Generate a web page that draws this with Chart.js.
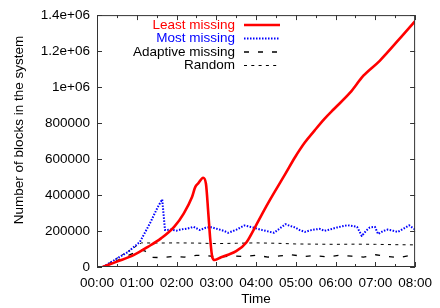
<!DOCTYPE html>
<html>
<head>
<meta charset="utf-8">
<script src="https://cdn.jsdelivr.net/npm/chart.js@4.4.0/dist/chart.umd.min.js"></script>
<style>
  html, body { margin: 0; padding: 0; background: #fff; }
  #wrap { width: 440px; height: 308px; }
</style>
</head>
<body>
<div id="wrap"><canvas id="chart" width="440" height="308"></canvas></div>
<script>
// values (x in hours since 00:00)
const seriesNames = ['Least missing', 'Most missing', 'Adaptive missing', 'Random'];

const leastHours  = [0.14, 0.5, 0.92, 1.28, 1.61, 1.94, 2.18, 2.39, 2.47, 2.55, 2.67, 2.74, 2.80, 2.85, 2.90, 2.96, 3.12, 3.3, 3.5, 3.75, 4.0, 4.25, 4.49, 4.74, 4.98, 5.23, 5.47, 5.72, 5.96, 6.37, 6.70, 7.11, 7.6, 8.0];
const leastValues = [0, 30000, 66000, 112000, 159000, 223000, 297000, 389000, 444000, 466000, 496000, 463000, 297000, 149000, 54000, 39000, 54000, 68000, 88000, 135000, 232000, 334000, 426000, 519000, 610000, 693000, 758000, 823000, 878000, 970000, 1063000, 1146000, 1266000, 1367000];

const mostHours  = [0.15, 0.47, 0.79, 1.08, 1.33, 1.53, 1.64, 1.68, 1.71, 1.86, 2.0, 2.10, 2.28, 2.43, 2.59, 2.73, 2.85, 2.97, 3.08, 3.20, 3.30, 3.40, 3.51, 3.61, 3.71, 3.82, 3.92, 4.04, 4.16, 4.30, 4.45, 4.6, 4.74, 4.86, 4.98, 5.1, 5.23, 5.35, 5.47, 5.6, 5.72, 5.88, 6.04, 6.16, 6.29, 6.42, 6.54, 6.66, 6.76, 6.86, 6.99, 7.07, 7.2, 7.31, 7.44, 7.56, 7.7, 7.85, 8.0];
const mostValues = [0, 43000, 85000, 140000, 242000, 334000, 376000, 278000, 205000, 208000, 202000, 208000, 214000, 223000, 205000, 218000, 222000, 215000, 208000, 200000, 190000, 198000, 208000, 220000, 231000, 225000, 220000, 212000, 205000, 198000, 190000, 215000, 238000, 228000, 220000, 205000, 195000, 203000, 208000, 212000, 201000, 210000, 220000, 226000, 232000, 228000, 223000, 172000, 200000, 220000, 223000, 183000, 200000, 208000, 202000, 195000, 212000, 232000, 208000];

const adaptiveHours  = [0.15, 0.6, 1.1, 1.2, 1.37, 1.6, 1.9, 2.2, 2.5, 2.8, 3.1, 3.4, 3.7, 4.0, 4.3, 4.6, 4.9, 5.2, 5.5, 5.8, 6.1, 6.4, 6.7, 7.0, 7.3, 7.6, 7.9, 8.0];
const adaptiveValues = [0, 45000, 95000, 90000, 54000, 52000, 58000, 55000, 65000, 62000, 55000, 62000, 58000, 65000, 55000, 62000, 68000, 58000, 64000, 55000, 66000, 60000, 55000, 68000, 58000, 52000, 65000, 70000];

const randomHours  = [0.15, 0.6, 1.12, 1.5, 2, 2.5, 3, 3.5, 4, 4.5, 5, 5.5, 6, 6.5, 7, 7.5, 8];
const randomValues = [0, 62000, 134000, 133000, 134000, 133000, 130000, 132000, 134000, 132000, 128000, 127000, 126000, 127000, 126000, 124000, 123000];

const xTickLabels = ['00:00', '01:00', '02:00', '03:00', '04:00', '05:00', '06:00', '07:00', '08:00'];
const yTickLabels = ['0', '200000', '400000', '600000', '800000', '1e+06', '1.2e+06', '1.4e+06'];

const FONT = "'Liberation Sans', Arial, Helvetica, sans-serif";

function toPoints(hours, values) {
    return hours.map((h, i) => ({ x: h, y: values[i] }));
}

// gnuplot-ish frame with inward ticks on all four sides, axis titles, legend
const frameAndLegend = {
    id: 'frameAndLegend',
    afterDatasetsDraw(chart) {
        const ctx = chart.ctx;
        const a = chart.chartArea;
        const xs = chart.scales.x;
        const ys = chart.scales.y;
        ctx.save();
        ctx.strokeStyle = '#333';
        ctx.lineWidth = 1;
        ctx.setLineDash([]);
        ctx.strokeRect(a.left + 0.5, a.top + 0.5, a.right - a.left - 1, a.bottom - a.top - 1);

        ctx.beginPath();
        for (let h = 0; h <= 8; h += 0.5) {
            const px = Math.round(xs.getPixelForValue(h)) + 0.5;
            const len = Number.isInteger(h) ? 5 : 3;
            ctx.moveTo(px, a.bottom); ctx.lineTo(px, a.bottom - len);
            ctx.moveTo(px, a.top); ctx.lineTo(px, a.top + len);
        }
        for (let i = 0; i < yTickLabels.length; i++) {
            const py = Math.round(ys.getPixelForValue(i * 200000)) + 0.5;
            ctx.moveTo(a.left, py); ctx.lineTo(a.left + 5, py);
            ctx.moveTo(a.right, py); ctx.lineTo(a.right - 5, py);
        }
        ctx.stroke();

        // axis titles
        ctx.fillStyle = '#000';
        ctx.font = '13.5px ' + FONT;
        ctx.textAlign = 'center';
        ctx.textBaseline = 'middle';
        ctx.fillText('Time', (a.left + a.right) / 2, 299);
        ctx.save();
        ctx.translate(19, 130);
        ctx.rotate(-Math.PI / 2);
        ctx.fillText('Number of blocks in the system', 0, 0);
        ctx.restore();

        // legend: text right-aligned, line sample to the right
        const rowY = [25, 38.5, 52, 65.5];
        chart.data.datasets.forEach((ds, i) => {
            ctx.textAlign = 'right';
            ctx.fillStyle = ds.labelColor;
            ctx.fillText(ds.label, 235, rowY[i]);
            ctx.beginPath();
            ctx.strokeStyle = ds.borderColor;
            ctx.lineWidth = ds.borderWidth;
            ctx.setLineDash(ds.borderDash || []);
            ctx.moveTo(244, rowY[i]);
            ctx.lineTo(280, rowY[i]);
            ctx.stroke();
        });
        ctx.restore();
    }
};

new Chart(document.getElementById('chart'), {
    type: 'line',
    data: {
        datasets: [
            {
                label: seriesNames[0], labelColor: '#ff0000',
                data: toPoints(leastHours, leastValues),
                borderColor: '#ff0000', borderWidth: 2.6, borderDash: [],
                cubicInterpolationMode: 'monotone'
            },
            {
                label: seriesNames[1], labelColor: '#0000ff',
                data: toPoints(mostHours, mostValues),
                borderColor: '#0000ff', borderWidth: 2, borderDash: [1.5, 1.5]
            },
            {
                label: seriesNames[2], labelColor: '#000',
                data: toPoints(adaptiveHours, adaptiveValues),
                borderColor: '#000', borderWidth: 1.3, borderDash: [5, 9]
            },
            {
                label: seriesNames[3], labelColor: '#000',
                data: toPoints(randomHours, randomValues),
                borderColor: '#000', borderWidth: 1, borderDash: [3, 4.3]
            }
        ]
    },
    options: {
        responsive: false,
        animation: false,
        events: [],
        layout: { padding: { top: 14, right: 17, left: 0, bottom: 0 } },
        elements: {
            point: { radius: 0 },
            line: { tension: 0, fill: false, borderCapStyle: 'butt', borderJoinStyle: 'round' }
        },
        plugins: { legend: { display: false }, tooltip: { enabled: false } },
        scales: {
            x: {
                type: 'linear', min: 0, max: 8,
                grid: { display: false, drawTicks: false },
                border: { display: false },
                ticks: {
                    stepSize: 1, padding: 8, maxRotation: 0, autoSkip: false,
                    color: '#000', font: { family: FONT, size: 13.5 },
                    callback: (v) => xTickLabels[v]
                },
                afterFit: (s) => { s.height = 41; }
            },
            y: {
                min: 0, max: 1400000,
                grid: { display: false, drawTicks: false },
                border: { display: false },
                ticks: {
                    stepSize: 200000, padding: 7, autoSkip: false,
                    color: '#000', font: { family: FONT, size: 13.5 },
                    callback: (v) => yTickLabels[Math.round(v / 200000)]
                },
                afterFit: (s) => { s.width = 97; }
            }
        }
    },
    plugins: [frameAndLegend]
});
</script>
</body>
</html>
